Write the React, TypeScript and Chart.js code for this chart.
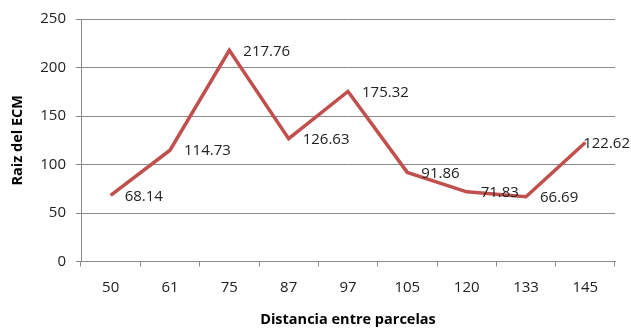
import React, { useEffect, useRef } from "react";
import { Chart, registerables } from "chart.js";

Chart.register(...registerables);

const distancias = ["50", "61", "75", "87", "97", "105", "120", "133", "145"];
const raizEcm = [68.14, 114.73, 217.76, 126.63, 175.32, 91.86, 71.83, 66.69, 122.62];
const yTicks = [0, 50, 100, 150, 200, 250];

const FONT = "'Open Sans', 'Noto Sans', sans-serif";
const GRID = "#8a8a8a";
const TEXT = "#222222";
const LINE = "#C0504D";

// Value labels to the right of each vertex, kept inside the canvas.
const valueLabels = {
  id: "valueLabels",
  afterDatasetsDraw(chart: any) {
    const { ctx, width } = chart;
    const meta = chart.getDatasetMeta(0);
    ctx.save();
    ctx.font = `15px ${FONT}`;
    ctx.fillStyle = TEXT;
    ctx.textAlign = "left";
    ctx.textBaseline = "middle";
    meta.data.forEach((pt: any, i: number) => {
      const txt = raizEcm[i].toFixed(2);
      const w = ctx.measureText(txt).width;
      let x = pt.x + 14;
      if (x + w > width - 1) x = width - 1 - w;
      ctx.fillText(txt, x, pt.y + 1);
    });
    ctx.restore();
  },
};

export default function App() {
  const canvasRef = useRef<HTMLCanvasElement | null>(null);

  useEffect(() => {
    if (!canvasRef.current) return;
    const chart = new Chart(canvasRef.current, {
      type: "line",
      data: {
        labels: distancias,
        datasets: [
          {
            data: raizEcm,
            borderColor: LINE,
            borderWidth: 3.5,
            pointRadius: 0,
            tension: 0,
            fill: false,
          },
        ],
      },
      options: {
        animation: false,
        responsive: false,
        maintainAspectRatio: false,
        layout: { padding: { left: 0, right: 16, top: 19, bottom: 0 } },
        plugins: {
          legend: { display: false },
          tooltip: { enabled: false },
        },
        scales: {
          x: {
            type: "category",
            offset: true,
            grid: {
              offset: true,
              drawOnChartArea: false,
              drawTicks: true,
              tickLength: 5,
              color: GRID,
            },
            border: { color: GRID, width: 1 },
            ticks: {
              color: TEXT,
              font: { family: FONT, size: 15 },
              padding: 12,
              maxRotation: 0,
              autoSkip: false,
            },
            title: {
              display: true,
              text: "Distancia entre parcelas",
              color: "#000",
              font: { family: FONT, size: 14.5, weight: "bold" },
              padding: { top: 0, bottom: 0 },
            },
            afterFit(scale: any) {
              scale.height = 67.5;
            },
          },
          y: {
            min: 0,
            max: 250,
            afterBuildTicks(scale: any) {
              scale.ticks = yTicks.map((v) => ({ value: v }));
            },
            grid: {
              color: GRID,
              drawTicks: true,
              tickLength: 5,
            },
            border: { color: GRID, width: 1 },
            ticks: {
              color: TEXT,
              font: { family: FONT, size: 15 },
              padding: 10,
            },
            title: {
              display: true,
              text: "Raiz del ECM",
              color: "#000",
              font: { family: FONT, size: 14.5, weight: "bold" },
              padding: { top: 9, bottom: 0 },
            },
            afterFit(scale: any) {
              scale.width = 81;
            },
          },
        },
      },
      plugins: [valueLabels],
    });
    return () => chart.destroy();
  }, []);

  return (
    <div style={{ position: "fixed", left: 0, top: 0, width: 631, height: 329, background: "#fff" }}>
      <canvas ref={canvasRef} width={631} height={329} style={{ display: "block" }} />
    </div>
  );
}
